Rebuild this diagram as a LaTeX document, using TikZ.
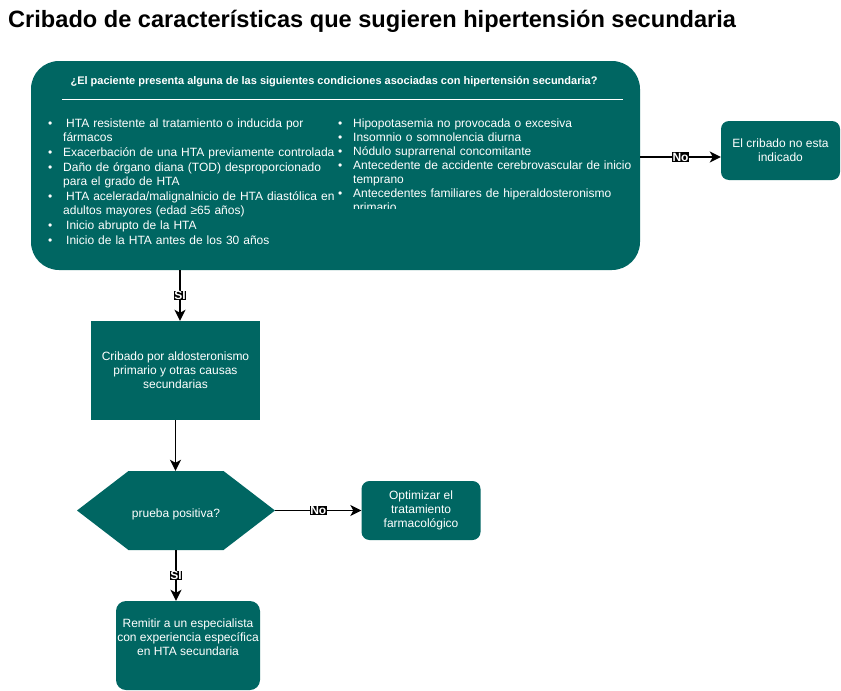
\documentclass[tikz,border=0pt]{standalone}
\usepackage{fontspec}
\setmainfont{Liberation Sans}
\usetikzlibrary{
positioning,
shapes.symbols,
arrows.meta,
}
\definecolor{htagreen}{RGB}{0,102,98}
\newcommand{\bodyfont}{\fontsize{12}{14}\selectfont}
\newcommand{\tagfont}{\fontsize{12}{12}\selectfont\bfseries}
\newcommand{\hitem}[1]{\par\noindent\hangindent=15pt\hangafter=1\strut\makebox[15pt][l]{\textbullet}#1\par}
\tikzset{
x=1pt, y=-1pt,
every node/.style={align=center},
box/.style={fill=htagreen, text=white, font=\bodyfont, inner sep=2pt},
roundbox/.style={box, rounded corners=8pt},
hexbox/.style={box, signal, signal to=west and east, signal pointer angle=75},
listtext/.style={text=white, font=\bodyfont, align=left, text width=300pt, inner sep=0pt, anchor=north west},
boxtext/.style={text=white, font=\bodyfont, align=center},
tag/.style={fill=black, text=white, font=\tagfont, inner sep=0.5pt},
flow/.style={-{Stealth[length=11pt, width=11pt, inset=3pt]}, line width=1.7pt},
}

\begin{document}
\begin{tikzpicture}
    \useasboundingbox (0,0) rectangle (841,691);
    \node [anchor=west, inner sep=0pt, font=\fontsize{23.6}{28}\selectfont\bfseries] (title) at (8,21) {Cribado de características que sugieren hipertensión secundaria};

    % pregunta inicial
    \node [box, rounded corners=28pt, minimum width=609pt, minimum height=209pt] (ask) at (335.5,165.5) {};
    \node [boxtext, font=\fontsize{11}{13}\selectfont\bfseries] (asktext) at (334,81.5) {¿El paciente presenta alguna de las siguientes condiciones asociadas con hipertensión secundaria?};
    \draw [white, line width=0.8pt] (62,99) -- (623,99);
    \node [listtext] (leftlist) at (48,113) {%
        \hitem{\hspace{3pt}HTA resistente al tratamiento o inducida por\newline fármacos}\vspace{1pt}
        \hitem{Exacerbación de una HTA previamente controlada}\vspace{1pt}
        \hitem{Daño de órgano diana (TOD) desproporcionado\newline para el grado de HTA}\vspace{1pt}
        \hitem{\hspace{3pt}HTA acelerada/malignalnicio de HTA diastólica en\newline adultos mayores (edad ≥65 años)}\vspace{1pt}
        \hitem{\hspace{3pt}Inicio abrupto de la HTA}\vspace{1pt}
        \hitem{\hspace{3pt}Inicio de la HTA antes de los 30 años}};
    \begin{scope}
        \clip (330,100) rectangle (640,208);
        \node [listtext] (rightlist) at (338,113) {%
            \hitem{Hipopotasemia no provocada o excesiva}
            \hitem{Insomnio o somnolencia diurna}
            \hitem{Nódulo suprarrenal concomitante}
            \hitem{Antecedente de accidente cerebrovascular de inicio\newline temprano}
            \hitem{Antecedentes familiares de hiperaldosteronismo\newline primario}};
    \end{scope}

    \node [roundbox, minimum width=119pt, minimum height=59pt] (nocrib) at (780.5,150.5) {El cribado no esta\\indicado};
    \node [box, minimum width=169pt, minimum height=99pt] (crib) at (175.5,370.5) {Cribado por aldosteronismo\\primario y otras causas\\secundarias};
    \node [hexbox, minimum width=198pt, minimum height=79pt,
           label={[boxtext, yshift=-4pt]center:prueba positiva?}] (hex) at (176,510.5) {};
    \node [roundbox, right=86pt of hex, minimum width=119pt, minimum height=59pt] (opt) {Optimizar el\\tratamiento\\farmacológico};
    \node [roundbox, rounded corners=10pt, minimum width=144pt, minimum height=89pt,
           label={[boxtext, yshift=8.5pt]center:{Remitir a un especialista\\con experiencia específica\\en HTA secundaria}}] (remit) at (188,645.5) {};

    \coordinate (noA) at ([yshift=-6.5pt]nocrib.west);
    \coordinate (siA) at ([xshift=4.5pt]crib.north);
    \draw [flow] (ask.east |- noA) -- node [tag] {No} (noA);
    \draw [flow] (ask.south -| siA) -- node [tag] {SI} (siA);
    \draw [flow] (crib.south) -- (crib.south |- hex.north);
    \draw [flow] (hex.east) -- node [tag] {No} (opt.west);
    \draw [flow] (hex.south) -- node [tag] {SI} (hex.south |- remit.north);
\end{tikzpicture}
\end{document}
